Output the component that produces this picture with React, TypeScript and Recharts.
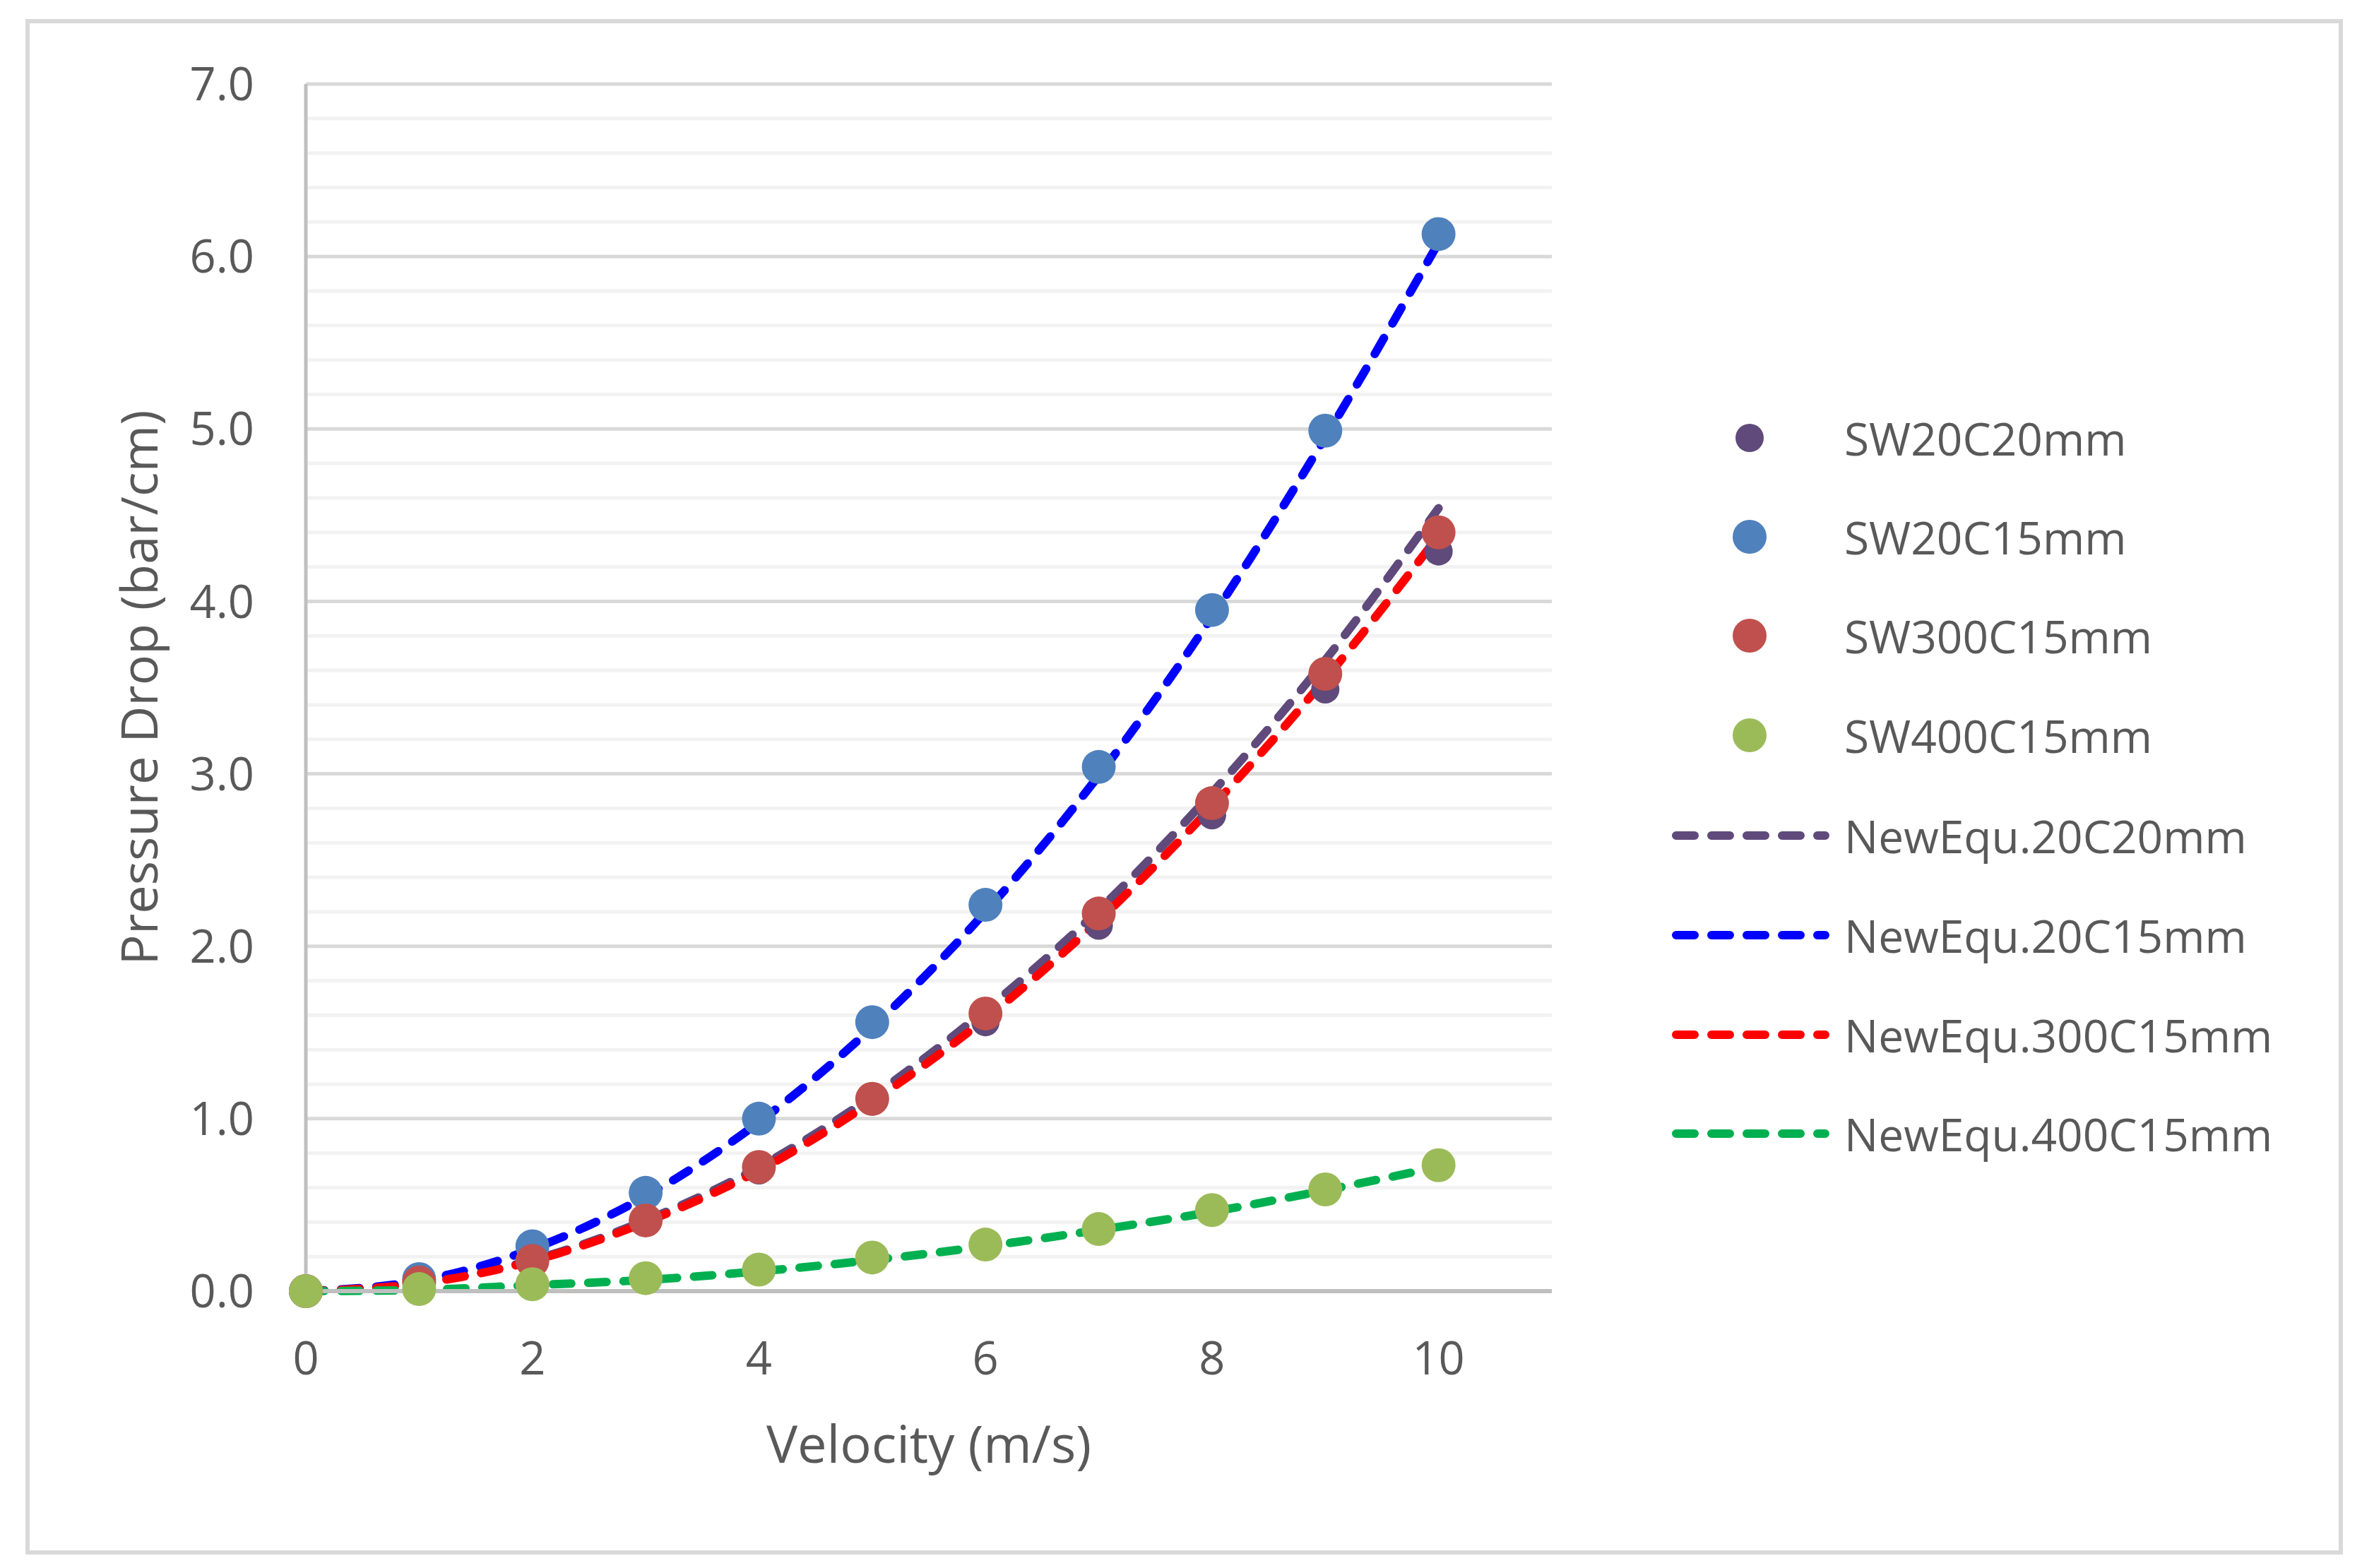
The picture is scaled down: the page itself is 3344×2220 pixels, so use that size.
import {
  CartesianGrid,
  ComposedChart,
  Line,
  Scatter,
  XAxis,
  YAxis,
} from 'recharts'

const velocity = [0, 1, 2, 3, 4, 5, 6, 7, 8, 9, 10]

// measured points
const sw20c20 = [0, 0.045, 0.17, 0.4, 0.7, 1.1, 1.56, 2.12, 2.76, 3.49, 4.29]
const sw20c15 = [0, 0.07, 0.26, 0.57, 1.0, 1.56, 2.24, 3.04, 3.95, 4.99, 6.13]
const sw300c15 = [0, 0.05, 0.175, 0.41, 0.72, 1.115, 1.61, 2.19, 2.83, 3.58, 4.4]
const sw400c15 = [0, 0.012, 0.04, 0.075, 0.125, 0.195, 0.27, 0.36, 0.47, 0.59, 0.73]

// new equation curves
const newEqu20c20 = [0, 0.045, 0.18, 0.41, 0.72, 1.13, 1.63, 2.21, 2.89, 3.66, 4.54]
const newEqu20c15 = [0, 0.06, 0.245, 0.55, 0.98, 1.53, 2.2, 2.99, 3.91, 4.95, 6.08]
const newEqu300c15 = [0, 0.044, 0.175, 0.4, 0.7, 1.1, 1.58, 2.15, 2.81, 3.55, 4.38]
const newEqu400c15 = [0, 0.007, 0.035, 0.065, 0.115, 0.18, 0.26, 0.355, 0.46, 0.585, 0.72]

const xTicks = [0, 2, 4, 6, 8, 10]
const yTicks = [0, 1, 2, 3, 4, 5, 6, 7]
const yMinorTicks = [
  0.2, 0.4, 0.6, 0.8, 1.2, 1.4, 1.6, 1.8, 2.2, 2.4, 2.6, 2.8, 3.2, 3.4, 3.6, 3.8,
  4.2, 4.4, 4.6, 4.8, 5.2, 5.4, 5.6, 5.8, 6.2, 6.4, 6.6, 6.8,
]

const toPoints = (ys: number[]) => velocity.map((x, i) => ({ x, y: ys[i] }))

const pointSeries = [
  { name: 'SW20C20mm', values: sw20c20, color: '#5f4a7b', r: 20 },
  { name: 'SW20C15mm', values: sw20c15, color: '#4f81bd', r: 24 },
  { name: 'SW300C15mm', values: sw300c15, color: '#c0504d', r: 24 },
  { name: 'SW400C15mm', values: sw400c15, color: '#9bbb59', r: 24 },
]

const lineSeries = [
  { name: 'NewEqu.20C20mm', values: newEqu20c20, color: '#5f4a7b' },
  { name: 'NewEqu.20C15mm', values: newEqu20c15, color: '#0000ff' },
  { name: 'NewEqu.300C15mm', values: newEqu300c15, color: '#ff0000' },
  { name: 'NewEqu.400C15mm', values: newEqu400c15, color: '#00b050' },
]

const FONT = '"Open Sans", "DejaVu Sans", sans-serif'
const TEXT = '#595959'
const DASH = '26 24'

function ChartLegend() {
  const markerRows = [620, 760, 900, 1041]
  const lineRows = [1183, 1324, 1465, 1605]
  return (
    <svg
      width={3344}
      height={2220}
      style={{ position: 'absolute', left: 0, top: 0, pointerEvents: 'none' }}
    >
      {pointSeries.map((s, i) => (
        <g key={s.name}>
          <circle cx={2477} cy={markerRows[i]} r={s.r} fill={s.color} />
          <text
            x={2611}
            y={markerRows[i]}
            dominantBaseline="central"
            fontFamily={FONT}
            fontSize={64}
            fill={TEXT}
          >
            {s.name}
          </text>
        </g>
      ))}
      {lineSeries.map((s, i) => (
        <g key={s.name}>
          <line
            x1={2373}
            x2={2584}
            y1={lineRows[i]}
            y2={lineRows[i]}
            stroke={s.color}
            strokeWidth={12}
            strokeDasharray={DASH}
            strokeLinecap="round"
          />
          <text
            x={2611}
            y={lineRows[i]}
            dominantBaseline="central"
            fontFamily={FONT}
            fontSize={64}
            fill={TEXT}
          >
            {s.name}
          </text>
        </g>
      ))}
    </svg>
  )
}

export default function App() {
  return (
    <div
      style={{
        position: 'absolute',
        left: 0,
        top: 0,
        width: 3344,
        height: 2220,
        background: '#fff',
        fontFamily: FONT,
      }}
    >
      <div
        style={{
          position: 'absolute',
          left: 36,
          top: 27,
          width: 3281,
          height: 2174,
          boxSizing: 'border-box',
          border: '6px solid #d9d9d9',
        }}
      />
      <div style={{ position: 'absolute', left: 0, top: 0 }}>
        <ComposedChart
          width={3344}
          height={2220}
          margin={{ top: 119, right: 1147, left: 283, bottom: 242 }}
        >
          <CartesianGrid
            vertical={false}
            horizontalValues={yMinorTicks}
            stroke="#f2f2f2"
            strokeWidth={5}
          />
          <CartesianGrid
            vertical={false}
            horizontalValues={yTicks.slice(1)}
            stroke="#d9d9d9"
            strokeWidth={5}
          />
          <XAxis
            type="number"
            dataKey="x"
            domain={[0, 11]}
            ticks={xTicks}
            height={150}
            axisLine={{ stroke: '#bfbfbf', strokeWidth: 6 }}
            tickLine={false}
            tickSize={0}
            tickMargin={72}
            tick={{ fill: TEXT, fontSize: 65, fontFamily: FONT }}
            label={{
              content: ({ viewBox }: any) => (
                <text
                  x={viewBox.x + viewBox.width / 2}
                  y={viewBox.y + 243}
                  textAnchor="middle"
                  fontFamily={FONT}
                  fontSize={74}
                  fill={TEXT}
                >
                  Velocity (m/s)
                </text>
              ),
            }}
          />
          <YAxis
            type="number"
            dataKey="y"
            domain={[0, 7]}
            ticks={yTicks}
            width={150}
            axisLine={{ stroke: '#bfbfbf', strokeWidth: 5 }}
            tickLine={false}
            tickSize={0}
            tickMargin={73}
            tickFormatter={(v: number) => v.toFixed(1)}
            tick={{ fill: TEXT, fontSize: 65, fontFamily: FONT }}
            label={{
              content: ({ viewBox }: any) => {
                const cx = viewBox.x - 60
                const cy = viewBox.y + viewBox.height / 2
                return (
                  <text
                    transform={`translate(${cx}, ${cy}) rotate(-90)`}
                    textAnchor="middle"
                    fontFamily={FONT}
                    fontSize={72}
                    fill={TEXT}
                  >
                    Pressure Drop (bar/cm)
                  </text>
                )
              },
            }}
          />
          {pointSeries.map((s) => (
            <Scatter
              key={s.name}
              name={s.name}
              data={toPoints(s.values)}
              fill={s.color}
              isAnimationActive={false}
              shape={(p: any) => (
                <circle cx={p.cx} cy={p.cy} r={s.r} fill={s.color} />
              )}
            />
          ))}
          {lineSeries.map((s) => (
            <Line
              key={s.name}
              name={s.name}
              data={toPoints(s.values)}
              dataKey="y"
              type="monotone"
              stroke={s.color}
              strokeWidth={12}
              strokeDasharray={DASH}
              strokeLinecap="round"
              dot={false}
              activeDot={false}
              isAnimationActive={false}
            />
          ))}
        </ComposedChart>
      </div>
      <ChartLegend />
    </div>
  )
}
